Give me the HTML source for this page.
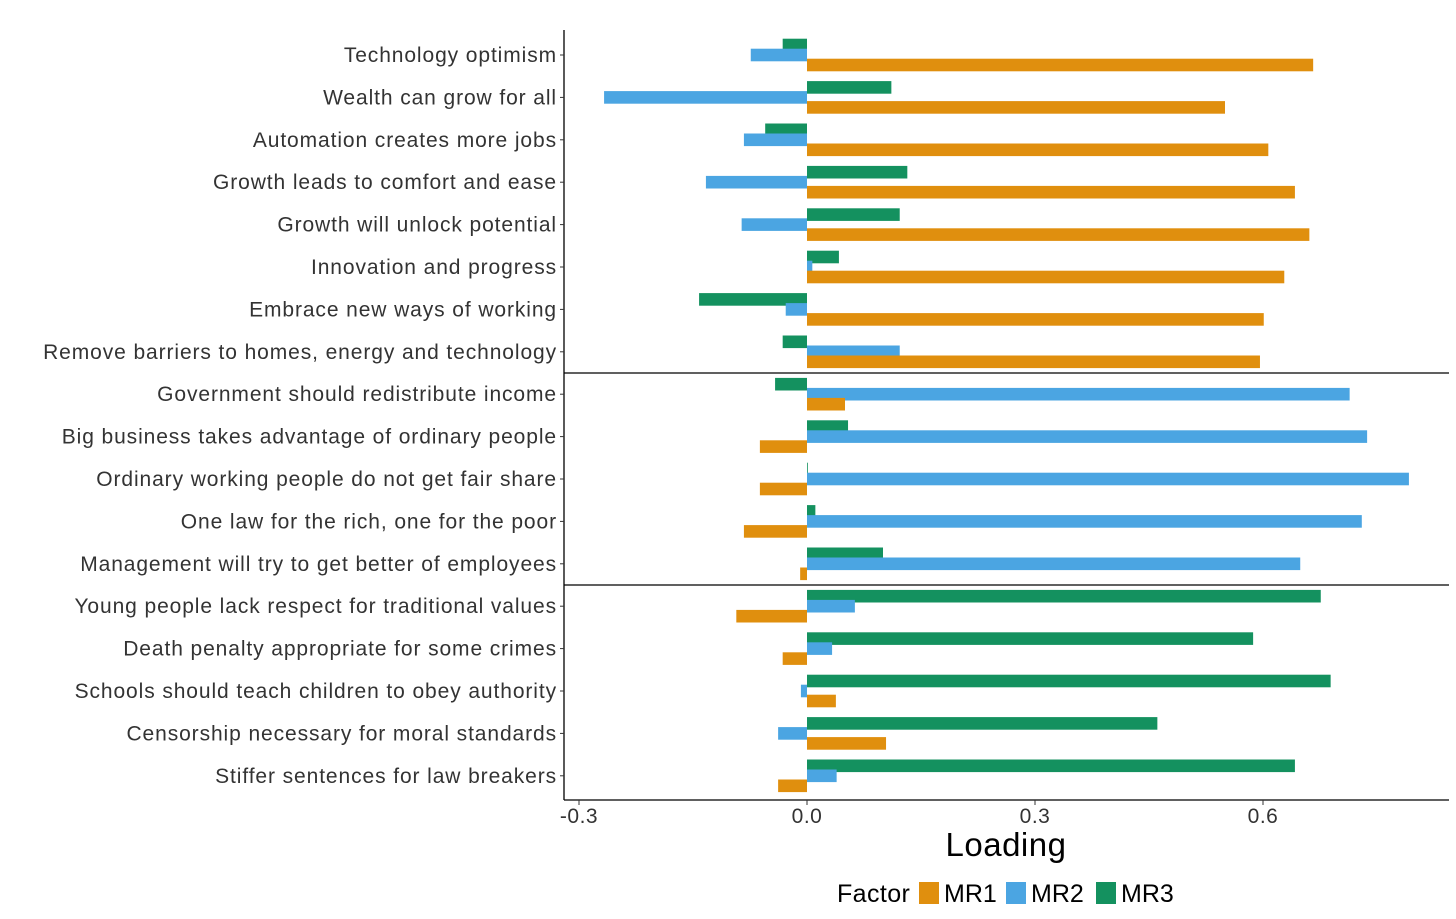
<!DOCTYPE html>
<html><head><meta charset="utf-8"><style>
body{margin:0;background:#fff;}
svg{display:block;font-family:"Liberation Sans",Arial,sans-serif;}
</style></head><body>
<svg id="chart" width="1456" height="919"></svg>
<script>
const categories=["Technology optimism","Wealth can grow for all","Automation creates more jobs","Growth leads to comfort and ease","Growth will unlock potential","Innovation and progress","Embrace new ways of working","Remove barriers to homes, energy and technology","Government should redistribute income","Big business takes advantage of ordinary people","Ordinary working people do not get fair share","One law for the rich, one for the poor","Management will try to get better of employees","Young people lack respect for traditional values","Death penalty appropriate for some crimes","Schools should teach children to obey authority","Censorship necessary for moral standards","Stiffer sentences for law breakers"];
const mr1=[0.666,0.55,0.607,0.642,0.661,0.628,0.601,0.596,0.05,-0.062,-0.062,-0.083,-0.009,-0.093,-0.032,0.038,0.104,-0.038];
const mr2=[-0.074,-0.267,-0.083,-0.133,-0.086,0.007,-0.028,0.122,0.714,0.737,0.792,0.73,0.649,0.063,0.033,-0.008,-0.038,0.039];
const mr3=[-0.032,0.111,-0.055,0.132,0.122,0.042,-0.142,-0.032,-0.042,0.054,0.001,0.011,0.1,0.676,0.587,0.689,0.461,0.642];
const xTicks=[-0.3,0.0,0.3,0.6];
const xTickLabels=["-0.3","0.0","0.3","0.6"];
const separatorsAfter=[7,12];

const svg=document.getElementById('chart');
const NS="http://www.w3.org/2000/svg";
const L=564,R=1449,T=30,B=800;
const x=v=>807+v*760;
const y=i=>55+i*42.4;
function mk(tag,attrs,parent){const e=document.createElementNS(NS,tag);for(const k in attrs)e.setAttribute(k,attrs[k]);(parent||svg).appendChild(e);return e;}
const series=[{vals:mr3,off:-10,col:"#14915F",name:"mr3"},{vals:mr2,off:0,col:"#4BA5E2",name:"mr2"},{vals:mr1,off:10,col:"#E08F0E",name:"mr1"}];
categories.forEach((c,i)=>{
  const t=mk('text',{x:557,y:y(i)+7,'text-anchor':'end','font-size':21,'letter-spacing':0.9,fill:'#333'});
  t.textContent=c;
  
  
  series.forEach(s=>{
    const v=s.vals[i];
    const r=mk('rect',{x:Math.min(x(0),x(v)),y:y(i)+s.off-6.3,width:Math.max(Math.abs(x(v)-x(0)),0.8),height:12.6,fill:s.col});
    
    
  });
});
separatorsAfter.forEach(k=>{
  const yy=(y(k)+y(k+1))/2;
  const l=mk('line',{x1:L,x2:R,y1:yy,y2:yy,stroke:'#000','stroke-width':1.3});
  
  
});
const ya=mk('line',{x1:L,x2:L,y1:T,y2:B,stroke:'#000','stroke-width':1.3});


const xa=mk('line',{x1:L,x2:R,y1:B,y2:B,stroke:'#000','stroke-width':1.3});


for(let i=0;i<categories.length;i++){mk('line',{x1:L-4,x2:L,y1:y(i),y2:y(i),stroke:'#333'});}
xTicks.forEach((v,i)=>{
  mk('line',{x1:x(v),x2:x(v),y1:B,y2:B+5,stroke:'#333'});
  const t=mk('text',{x:x(v),y:B+23,'text-anchor':'middle','font-size':21,'letter-spacing':0.5,fill:'#333'});
  t.textContent=xTickLabels[i];
  
  
});
const xt=mk('text',{x:1006,y:856,'text-anchor':'middle','font-size':33,'letter-spacing':0.5,fill:'#000'});
xt.textContent="Loading";


const lt=mk('text',{x:837,y:902,'font-size':25,'letter-spacing':0.4,fill:'#000'});
lt.textContent="Factor";


[["MR1","#E08F0E",919],["MR2","#4BA5E2",1006],["MR3","#14915F",1096]].forEach(([n,c,lx])=>{
  const g=mk('g',{});
  
  
  mk('rect',{x:lx,y:882,width:20,height:22,fill:c},g);
  const t=mk('text',{x:lx+25,y:902,'font-size':25,fill:'#000'},g);
  t.textContent=n;
});
</script>
</body></html>
